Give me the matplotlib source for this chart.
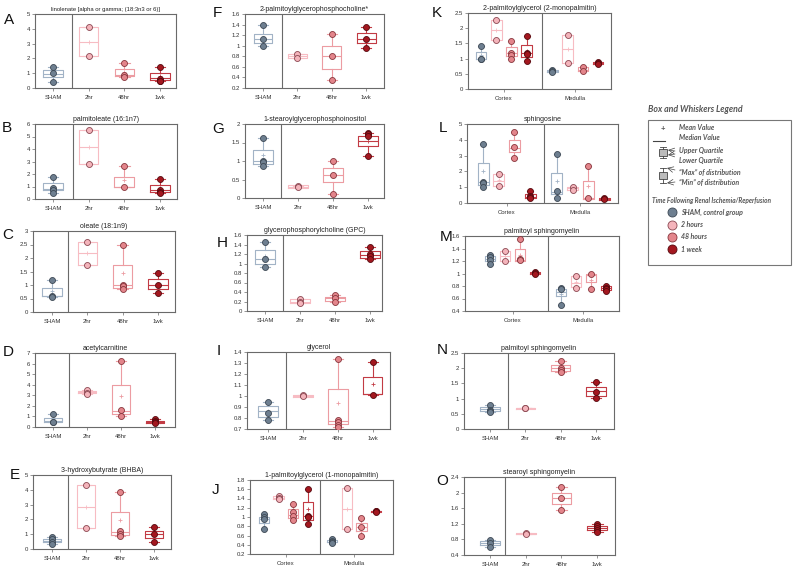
import matplotlib
matplotlib.use("Agg")
import matplotlib.pyplot as plt
from matplotlib.patches import Rectangle

W, H = 796, 573
plt.rcParams['font.family'] = ['Liberation Sans', 'DejaVu Sans']

GROUPS = ["SHAM", "2hr", "48hr", "1wk"]
REGIONS = ["Cortex", "Medulla"]

# ---- data: individual points per group, and box stats (q1, median, q3, mean) ----
A_points = [[1.45, 1.0, 0.4], [4.1, 2.15], [1.7, 0.85, 0.75], [1.45, 0.6, 0.5, 0.45]]
A_boxes = [(0.75, 0.95, 1.25, 0.95), (2.15, 3.1, 4.1, 3.1), (0.8, 0.9, 1.3, 1.1), (0.55, 0.65, 1.0, 0.8)]

B_points = [[1.75, 0.85, 0.7, 0.5], [5.55, 2.8], [2.65, 0.95], [1.6, 0.7, 0.6, 0.5]]
B_boxes = [(0.7, 0.8, 1.3, 1.0), (2.8, 4.2, 5.55, 4.2), (0.95, 1.0, 1.8, 1.5), (0.6, 0.7, 1.15, 0.9)]

C_points = [[1.2, 0.6, 0.55], [2.6, 1.75], [2.48, 1.0, 0.95, 0.85], [1.45, 1.0, 0.72]]
C_boxes = [(0.58, 0.6, 0.9, 0.78), (1.75, 2.2, 2.6, 2.2), (0.9, 1.0, 1.75, 1.45), (0.85, 1.0, 1.22, 1.05)]

D_points = [[1.2, 0.5, 0.45], [3.5, 3.25, 3.15], [6.25, 1.6, 1.0], [0.75, 0.55, 0.45, 0.35]]
D_boxes = [(0.5, 0.6, 0.85, 0.7), (3.2, 3.35, 3.45, 3.35), (1.25, 1.5, 4.0, 2.95), (0.4, 0.5, 0.6, 0.5)]

E_points = [[0.8, 0.65, 0.45, 0.35], [4.3, 1.45], [3.85, 1.2, 1.0, 0.85], [1.5, 1.0, 0.5]]
E_boxes = [(0.45, 0.55, 0.7, 0.58), (1.45, 2.85, 4.3, 2.85), (0.95, 1.15, 2.5, 1.95), (0.75, 1.0, 1.25, 1.0)]

F_points = [[1.4, 1.12, 1.0], [0.85, 0.77], [1.22, 0.8, 0.35], [1.35, 1.12, 0.95]]
F_boxes = [(1.05, 1.12, 1.22, 1.15), (0.77, 0.8, 0.85, 0.8), (0.55, 0.8, 1.0, 0.8), (1.05, 1.12, 1.25, 1.15)]

G_points = [[1.62, 1.0, 0.98, 0.87], [0.33, 0.3], [1.0, 0.63, 0.1], [1.75, 1.72, 1.68, 1.13]]
G_boxes = [(0.92, 1.0, 1.3, 1.15), (0.28, 0.31, 0.35, 0.31), (0.44, 0.63, 0.82, 0.6), (1.4, 1.55, 1.68, 1.55)]

H_points = [[1.45, 1.1, 0.92], [0.25, 0.2, 0.17], [0.33, 0.28, 0.18], [1.35, 1.2, 1.15, 1.1]]
H_boxes = [(1.0, 1.1, 1.28, 1.15), (0.17, 0.2, 0.25, 0.21), (0.22, 0.27, 0.3, 0.27), (1.12, 1.17, 1.27, 1.2)]

I_points = [[0.95, 0.85, 0.78], [1.01, 1.0], [1.34, 0.78, 0.76, 0.74, 0.72], [1.31, 1.01]]
I_boxes = [(0.81, 0.86, 0.91, 0.86), (0.995, 1.0, 1.01, 1.0), (0.75, 0.77, 1.06, 0.94), (1.02, 1.02, 1.17, 1.11)]

# cortex (SHAM, 2hr, 48hr, 1wk) then medulla (SHAM, 2hr, 48hr, 1wk)
J_points = [[1.06, 1.0, 0.96, 0.74], [1.46, 1.42, 1.38], [1.28, 1.11, 1.03, 0.93], [1.6, 1.03, 1.0, 0.84],
            [0.52, 0.48, 0.45, 0.43], [1.62, 0.73], [0.98, 0.79, 0.58], [1.13, 1.12, 1.1]]
J_boxes = [(0.86, 0.95, 1.0, 0.94), (1.38, 1.42, 1.46, 1.42), (0.98, 1.05, 1.17, 1.09), (0.93, 1.03, 1.32, 1.17),
           (0.45, 0.47, 0.5, 0.47), (0.73, 1.17, 1.62, 1.17), (0.7, 0.79, 0.86, 0.78), (1.1, 1.12, 1.14, 1.12)]

K_points = [[1.42, 1.0, 0.98], [2.28, 1.6], [1.57, 1.18, 1.12, 1.0], [1.75, 1.17, 1.15, 0.92],
            [0.62, 0.58, 0.55], [1.78, 0.85], [0.74, 0.58], [0.9, 0.86, 0.83]]
K_boxes = [(1.0, 1.0, 1.22, 1.13), (1.6, 1.95, 2.28, 1.94), (1.1, 1.18, 1.38, 1.22), (1.05, 1.17, 1.45, 1.25),
           (0.55, 0.58, 0.62, 0.58), (0.85, 1.3, 1.78, 1.3), (0.58, 0.62, 0.72, 0.66), (0.82, 0.86, 0.9, 0.86)]

L_points = [[3.75, 1.35, 1.25, 1.0], [1.85, 1.05], [4.5, 3.54, 2.85], [0.75, 0.45, 0.35, 0.3],
            [3.1, 0.76, 0.34], [1.0, 0.85], [2.36, 0.34], [0.3, 0.25]]
L_boxes = [(1.15, 1.35, 2.5, 2.0), (1.05, 1.4, 1.85, 1.45), (3.2, 3.5, 4.0, 3.6), (0.3, 0.4, 0.6, 0.46),
           (0.56, 0.7, 1.92, 1.4), (0.8, 0.92, 1.0, 0.92), (0.25, 0.3, 1.4, 1.05), (0.2, 0.25, 0.3, 0.27)]

M_points = [[1.3, 1.27, 1.22, 1.15], [1.36, 1.2], [1.56, 1.24, 1.22], [1.02, 1.01, 1.0],
            [0.77, 0.75, 0.5], [0.96, 0.77], [1.0, 0.76], [0.8, 0.77, 0.75, 0.72]]
M_boxes = [(1.2, 1.24, 1.28, 1.24), (1.2, 1.28, 1.36, 1.28), (1.2, 1.22, 1.39, 1.3), (1.0, 1.01, 1.02, 1.01),
           (0.64, 0.7, 0.76, 0.67), (0.78, 0.85, 0.96, 0.87), (0.87, 0.98, 0.99, 0.9), (0.73, 0.77, 0.8, 0.76)]

N_points = [[0.8, 0.62, 0.58, 0.55], [0.7, 0.68], [2.25, 2.02, 1.95, 1.88], [1.56, 1.23, 1.03]]
N_boxes = [(0.6, 0.66, 0.72, 0.66), (0.65, 0.68, 0.7, 0.68), (1.9, 2.0, 2.12, 2.02), (1.09, 1.25, 1.37, 1.27)]

O_points = [[0.78, 0.72, 0.6], [0.96, 0.95], [2.15, 1.85, 1.55], [1.2, 1.15, 1.1, 1.05, 1.0]]
O_boxes = [(0.65, 0.7, 0.75, 0.7), (0.94, 0.95, 0.96, 0.95), (1.7, 1.85, 2.0, 1.85), (1.05, 1.1, 1.15, 1.1)]

# ---- styling ----
FACE = ["#6e7f90", "#f4b4bb", "#e3858b", "#a3171f"]
EDGE = ["#3c4753", "#8a4650", "#86343b", "#55080e"]
BOXC = ["#a2b3c6", "#f7bcc3", "#ec9ca2", "#c23b44"]
FRAME = "#6a6a6a"

fig = plt.figure(figsize=(W / 100, H / 100), dpi=100)


def px_axes(l, t, r, b):
    return fig.add_axes([l / W, 1 - b / H, (r - l) / W, (b - t) / H])


def panel(rect, title, letter, lpos, points, boxes, ylim, yticks, xlim, div, cm=False, tfs=5.0):
    ax = px_axes(*rect)
    if cm:
        pos = [1, 2, 3, 4, 5.7, 6.7, 7.7, 8.7]
        bw = 0.7
    else:
        pos = [1, 2, 3, 4]
        bw = 0.55
    for i, (pts, bx) in enumerate(zip(points, boxes)):
        k = i % 4
        q1, med, q3, mean = bx
        st = dict(med=med, q1=q1, q3=q3, mean=mean, whislo=min(pts), whishi=max(pts), fliers=[])
        c = BOXC[k]
        ax.bxp([st], positions=[pos[i]], widths=[bw], capwidths=[bw * 0.55], showmeans=True,
               showfliers=False, manage_ticks=False,
               boxprops=dict(color=c, lw=0.8), medianprops=dict(color=c, lw=0.8),
               whiskerprops=dict(color=c, lw=0.8), capprops=dict(color=c, lw=0.8),
               meanprops=dict(marker='+', markeredgecolor=c, markersize=3, markeredgewidth=0.6))
        ax.plot([pos[i]] * len(pts), pts, 'o', ms=4.3, mfc=FACE[k], mec=EDGE[k], mew=0.6, zorder=4)
    ax.axvline(div, color=FRAME, lw=0.8)
    ax.set_xlim(*xlim)
    ax.set_ylim(*ylim)
    ax.set_yticks(yticks)
    ax.set_yticklabels(["%g" % v for v in yticks])
    if cm:
        ax.set_xticks([2.5, 7.2])
        ax.set_xticklabels(REGIONS)
    else:
        ax.set_xticks(pos)
        ax.set_xticklabels(GROUPS)
    ax.tick_params(axis='both', labelsize=4.3, length=2, width=0.5, color=FRAME, labelcolor='#333', pad=1.5)
    ax.tick_params(axis='x', pad=3)
    for s in ax.spines.values():
        s.set_color(FRAME)
        s.set_linewidth(0.8)
    ax.set_title(title, fontsize=tfs, pad=2, color='#222')
    fig.text(lpos[0] / W, 1 - lpos[1] / H, letter, fontsize=11, ha='center', va='center', color='#111')
    return ax


panel((35, 14, 176, 88), "linolenate [alpha or gamma; (18:3n3 or 6)]", "A", (9, 20), A_points, A_boxes,
      (0, 5), [0, 1, 2, 3, 4, 5], (0.495, 4.45), 1.53, tfs=4.2)
panel((35, 124, 177, 199), "palmitoleate (16:1n7)", "B", (7, 128), B_points, B_boxes,
      (0, 6), [0, 1, 2, 3, 4, 5, 6], (0.495, 4.48), 1.56)
panel((33, 231, 175, 312), "oleate (18:1n9)", "C", (8, 235), C_points, C_boxes,
      (0, 3), [0, 0.5, 1, 1.5, 2, 2.5, 3], (0.46, 4.48), 1.45)
panel((35, 353, 175, 427), "acetylcarnitine", "D", (8, 352), D_points, D_boxes,
      (0, 7), [0, 1, 2, 3, 4, 5, 6, 7], (0.47, 4.59), 1.47)
panel((33, 475, 171, 549), "3-hydroxybutyrate (BHBA)", "E", (15, 475), E_points, E_boxes,
      (0, 5), [0, 1, 2, 3, 4, 5], (0.44, 4.5), 1.47)

panel((245, 14, 384, 88), "2-palmitoylglycerophosphocholine*", "F", (217, 13), F_points, F_boxes,
      (0.2, 1.6), [0.2, 0.4, 0.6, 0.8, 1, 1.2, 1.4, 1.6], (0.476, 4.52), 1.55)
panel((245, 124, 384, 198), "1-stearoylglycerophosphoinositol", "G", (218, 129), G_points, G_boxes,
      (0, 2), [0, 0.5, 1, 1.5, 2], (0.486, 4.46), 1.51)
panel((247, 235, 382, 311), "glycerophosphorylcholine (GPC)", "H", (222, 243), H_points, H_boxes,
      (0, 1.6), [0, 0.2, 0.4, 0.6, 0.8, 1, 1.2, 1.4, 1.6], (0.486, 4.34), 1.51)
panel((247, 352, 390, 429), "glycerol", "I", (219, 351), I_points, I_boxes,
      (0.7, 1.4), [0.7, 0.8, 0.9, 1, 1.1, 1.2, 1.3, 1.4], (0.4, 4.49), 1.51)
panel((250, 480, 393, 554), "1-palmitoylglycerol (1-monopalmitin)", "J", (216, 490), J_points, J_boxes,
      (0.2, 1.8), [0.2, 0.4, 0.6, 0.8, 1, 1.2, 1.4, 1.6, 1.8], (0.04, 9.87), 4.85, cm=True)

panel((468, 13, 611, 89), "2-palmitoylglycerol (2-monopalmitin)", "K", (437, 13), K_points, K_boxes,
      (0, 2.5), [0, 0.5, 1, 1.5, 2, 2.5], (0.145, 9.55), 5.0, cm=True)
panel((467, 124, 618, 203), "sphingosine", "L", (443, 128), L_points, L_boxes,
      (0, 5), [0, 1, 2, 3, 4, 5], (-0.02, 9.59), 4.88, cm=True)
panel((465, 236, 619, 311), "palmitoyl sphingomyelin", "M", (446, 237), M_points, M_boxes,
      (0.4, 1.6), [0.4, 0.6, 0.8, 1, 1.2, 1.4, 1.6], (-0.66, 9.56), 4.85, cm=True)
panel((464, 353, 614, 429), "palmitoyl sphingomyelin", "N", (442, 350), N_points, N_boxes,
      (0, 2.5), [0, 0.5, 1, 1.5, 2, 2.5], (0.264, 4.51), 1.51)
panel((464, 477, 615, 555), "stearoyl sphingomyelin", "O", (442, 481), O_points, O_boxes,
      (0.4, 2.4), [0.4, 0.8, 1.2, 1.6, 2, 2.4], (0.27, 4.5), 1.42)

# ---- legend panel ----
ov = fig.add_axes([0, 0, 1, 1])
ov.set_xlim(0, W)
ov.set_ylim(H, 0)
ov.axis('off')
ov.patch.set_visible(False)
LG = '#555555'
lf = dict(family=['Lato', 'DejaVu Sans'], style='italic', weight='bold', color=LG, va='center')
ov.text(648, 110, "Box and Whiskers Legend", fontsize=6.3, **lf)
ov.add_patch(Rectangle((648, 120), 143, 145, fill=False, ec='#777777', lw=0.8))
ov.text(663, 128, "+", fontsize=5.5, ha='center', **{k: v for k, v in lf.items() if k != 'style'})
ov.text(679, 128, "Mean Value", fontsize=5, **lf)
ov.plot([653, 665], [141, 141], color='#444', lw=0.8)
ov.text(679, 137, "Median Value", fontsize=5, **lf)
# quartile icon
ov.add_patch(Rectangle((659, 149), 8, 7, fc='#bbbbbb', ec='#444', lw=0.6))
ov.plot([663, 663], [147, 149], color='#444', lw=0.6)
ov.plot([663, 663], [156, 158], color='#444', lw=0.6)
ov.plot([660, 666], [147, 147], color='#444', lw=0.6)
ov.plot([660, 666], [158, 158], color='#444', lw=0.6)
ov.annotate("", xy=(668, 150), xytext=(675, 151), arrowprops=dict(arrowstyle='->', lw=0.5, color='#444', shrinkA=0, shrinkB=0))
ov.annotate("", xy=(668, 155), xytext=(675, 154), arrowprops=dict(arrowstyle='->', lw=0.5, color='#444', shrinkA=0, shrinkB=0))
ov.text(679, 151, "Upper Quartile", fontsize=5, **lf)
ov.text(679, 160, "Lower Quartile", fontsize=5, **lf)
# min/max icon
ov.add_patch(Rectangle((659, 172), 8, 7, fc='#bbbbbb', ec='#444', lw=0.6))
ov.plot([663, 663], [168, 172], color='#444', lw=0.6)
ov.plot([663, 663], [179, 183], color='#444', lw=0.6)
ov.plot([660, 666], [168, 168], color='#444', lw=0.6)
ov.plot([660, 666], [183, 183], color='#444', lw=0.6)
ov.annotate("", xy=(667, 168), xytext=(675, 170), arrowprops=dict(arrowstyle='->', lw=0.5, color='#444', shrinkA=0, shrinkB=0))
ov.annotate("", xy=(667, 183), xytext=(675, 182), arrowprops=dict(arrowstyle='->', lw=0.5, color='#444', shrinkA=0, shrinkB=0))
ov.text(679, 173, "\u201cMax\u201d of distribution", fontsize=5, **lf)
ov.text(679, 182, "\u201cMin\u201d of distribution", fontsize=5, **lf)
ov.text(652, 201, "Time Following Renal Ischemia/Reperfusion", fontsize=4.7, **lf)
LEG_LABELS = ["SHAM, control group", "2 hours", "48 hours", "1 week"]
for k, (lab, yy) in enumerate(zip(LEG_LABELS, [212, 224.5, 236.5, 249])):
    ov.plot([672], [yy], 'o', ms=6.5, mfc=FACE[k], mec=EDGE[k], mew=0.6)
    ov.text(681, yy, lab, fontsize=5, **lf)

fig.savefig("out.png", dpi=100)
